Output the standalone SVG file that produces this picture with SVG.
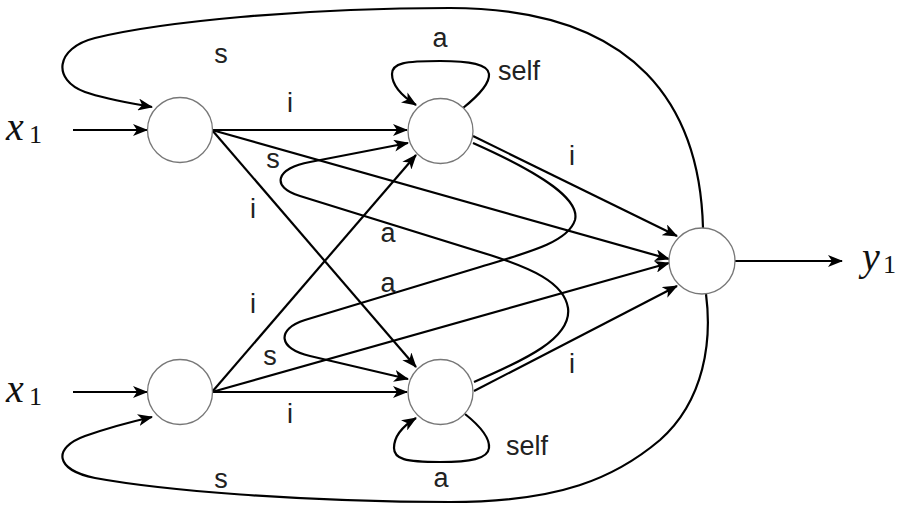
<svg xmlns="http://www.w3.org/2000/svg" width="901" height="505" viewBox="0 0 901 505">
<defs>
<marker id="ah" markerUnits="userSpaceOnUse" markerWidth="15" markerHeight="12" viewBox="0 0 15 12" refX="14" refY="6" orient="auto">
<path d="M0,0 L15,6 L0,12 L4,6 Z" fill="#000"/>
</marker>
</defs>
<style>
.node{fill:#fff;stroke:#777;stroke-width:1.3}
.e{fill:none;stroke:#000;stroke-width:2.2;marker-end:url(#ah)}
.lbl{font-family:"Liberation Sans",Arial,sans-serif;font-size:27px;fill:#222;text-anchor:middle}
.math{font-family:"Liberation Serif","Times New Roman",serif;fill:#111}
</style>
<rect width="901" height="505" fill="#fff"/>
<g id="connectors">
<path class="e" d="M73,130 L147,130"/>
<path class="e" d="M73,392 L147,392"/>
<path class="e" d="M735,261 L842,261"/>
<path class="e" d="M212,130 L407,130"/>
<path class="e" d="M212,130 L669,259"/>
<path class="e" d="M212,130 L416,367"/>
<path class="e" d="M212,392 L416,155"/>
<path class="e" d="M212,392 L669,263"/>
<path class="e" d="M212,392 L407,392"/>
<path class="e" d="M473,136 L677,236"/>
<path class="e" d="M474,391 L677,286"/>
<path class="e" d="M473,143 C 545,175 580,200 575,220 C 568,242 530,252 480,267 L 305,320 C 276,329 278,349 310,356 L 408,379"/>
<path class="e" d="M474,382 C 525,360 572,338 568,308 C 564,282 530,268 490,255 L 300,196 C 270,187 276,168 310,162 L 408,143"/>
<path class="e" d="M463,108 C 478,96 490,84 489,74 C 488,64 470,61 440,61 C 405,61 392,63 392,74 C 392,86 402,96 416,105"/>
<path class="e" d="M465,414 C 480,426 490,438 489,448 C 488,459 470,462 440,462 C 405,462 394,459 394,448 C 394,436 403,426 416,418"/>
<path class="e" d="M703,228 C 700,110 640,8 450,8 C 300,8 160,22 95,38 C 55,48 52,80 85,92 C 105,99 130,103 152,107"/>
<path class="e" d="M706,294 C 712,340 705,400 660,440 C 615,478 560,502 450,502 C 300,502 160,490 95,478 C 55,470 52,448 85,436 C 105,429 130,422 152,417"/>
</g>
<g id="A"><circle class="node" cx="180" cy="130" r="32.5"/></g>
<g id="B"><circle class="node" cx="180" cy="392" r="32.5"/></g>
<g id="C"><circle class="node" cx="440.5" cy="131" r="32.5"/></g>
<g id="D"><circle class="node" cx="440.5" cy="392" r="32.5"/></g>
<g id="E"><circle class="node" cx="702" cy="261" r="33"/></g>
<g id="labels">
<text class="math" x="6" y="140" font-size="40" font-style="italic">x</text><text class="math" x="29" y="143" font-size="26">1</text>
<text class="math" x="6" y="402" font-size="40" font-style="italic">x</text><text class="math" x="29" y="405" font-size="26">1</text>
<text class="math" x="862" y="270" font-size="40" font-style="italic">y</text><text class="math" x="883" y="273" font-size="26">1</text>
<text class="lbl" x="221" y="63">s</text>
<text class="lbl" x="290" y="112">i</text>
<text class="lbl" x="273" y="168">s</text>
<text class="lbl" x="253" y="218">i</text>
<text class="lbl" x="388" y="242">a</text>
<text class="lbl" x="388" y="292">a</text>
<text class="lbl" x="253" y="313">i</text>
<text class="lbl" x="270" y="365">s</text>
<text class="lbl" x="290" y="423">i</text>
<text class="lbl" x="221" y="488">s</text>
<text class="lbl" x="441" y="487">a</text>
<text class="lbl" x="440" y="47">a</text>
<text class="lbl" x="572" y="165">i</text>
<text class="lbl" x="572" y="373">i</text>
<text class="lbl" x="519" y="80">self</text>
<text class="lbl" x="527" y="455">self</text>
</g>
</svg>
